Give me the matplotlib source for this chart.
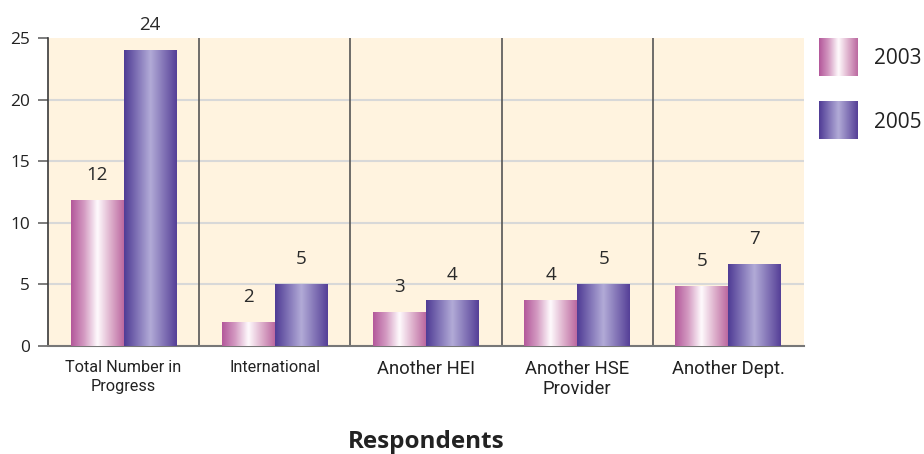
import numpy as np
import matplotlib
matplotlib.use('Agg')
import matplotlib.pyplot as plt
from matplotlib.colors import LinearSegmentedColormap

plt.rcParams['font.family'] = ['Open Sans', 'DejaVu Sans']

# data
categories = ['Total Number in\nProgress', 'International', 'Another HEI',
              'Another HSE\nProvider', 'Another Dept.']
series_names = ['2003', '2005']
heights_2003 = [11.8, 1.9, 2.7, 3.7, 4.85]   # drawn bar heights
heights_2005 = [24.0, 5.0, 3.7, 5.0, 6.6]
labels_2003 = ['12', '2', '3', '4', '5']      # printed value labels
labels_2005 = ['24', '5', '4', '5', '7']
y_ticks = [0, 5, 10, 15, 20, 25]

cmap_2003 = LinearSegmentedColormap.from_list(
    'c2003', [(0.0, '#b3579a'), (0.25, '#d49bc2'), (0.5, '#fffbfd'),
              (0.75, '#deb0cc'), (1.0, '#bb68a0')])
cmap_2005 = LinearSegmentedColormap.from_list(
    'c2005', [(0.0, '#4f3b95'), (0.5, '#b2abd7'), (1.0, '#553f97')])
grad = np.linspace(0, 1, 256).reshape(1, -1)

fig = plt.figure(figsize=(9.24, 4.54), dpi=100)
ax = fig.add_axes([48 / 924, 1 - 346 / 454, 756 / 924, 308 / 454])
ax.set_facecolor('#fff3df')

x = np.arange(len(categories))
w = 0.35
b1 = ax.bar(x - w / 2, heights_2003, w, zorder=3)
b2 = ax.bar(x + w / 2, heights_2005, w, zorder=3)

for bars, cmap, labs in [(b1, cmap_2003, labels_2003), (b2, cmap_2005, labels_2005)]:
    for bar, lab in zip(bars, labs):
        x0, bw, h = bar.get_x(), bar.get_width(), bar.get_height()
        ax.imshow(grad, cmap=cmap, extent=[x0, x0 + bw, 0, h], aspect='auto',
                  interpolation='bicubic', zorder=3)
        bar.set_visible(False)
        ax.annotate(lab, (x0 + bw / 2, h), xytext=(0, 18.5), textcoords='offset points',
                    ha='center', va='center', fontsize=13.5, color='#2a2a2a')

ax.set_xlim(-0.5, len(categories) - 0.5)
ax.set_ylim(0, 25)

# grid and separators
for t in y_ticks[1:-1]:
    ax.axhline(t, color='#d8d8d8', lw=1.5, zorder=1)
for s in x[:-1] + 0.5:
    ax.axvline(s, color='#555555', lw=1.2, zorder=2)

ax.set_yticks(y_ticks)
ax.tick_params(axis='y', length=7, width=1.2, color='#666666', pad=6,
               labelsize=12.4, labelcolor='#222222')
ax.set_xticks(x)
ax.set_xticklabels(categories)
ax.tick_params(axis='x', length=0, pad=10, labelcolor='#222222')
for i, tl in enumerate(ax.get_xticklabels()):
    tl.set_family(['Roboto', 'DejaVu Sans'])
    tl.set_fontsize(11.7 if i < 2 else 13.3)
    tl.set_linespacing(1.35 if i < 2 else 1.15)

for side in ['top', 'right']:
    ax.spines[side].set_visible(False)
ax.spines['left'].set_color('#3a3a3a')
ax.spines['left'].set_linewidth(1.2)
ax.spines['bottom'].set_color('#777777')
ax.spines['bottom'].set_linewidth(1.5)

fig.text(0.461, 1 - 448 / 454, 'Respondents', ha='center', va='baseline',
         fontsize=17.5, fontweight='bold', color='#222222')

# legend with gradient swatches
for k, (name, cmap) in enumerate(zip(series_names, [cmap_2003, cmap_2005])):
    top = 38 + k * 63
    lax = fig.add_axes([819 / 924, 1 - (top + 38) / 454, 39 / 924, 38 / 454])
    lax.imshow(grad, cmap=cmap, aspect='auto', interpolation='bicubic')
    lax.axis('off')
    fig.text(874 / 924, 1 - (top + 21) / 454, name, ha='left', va='center',
             fontsize=15, color='#222222')

fig.savefig('out.png', dpi=100)
